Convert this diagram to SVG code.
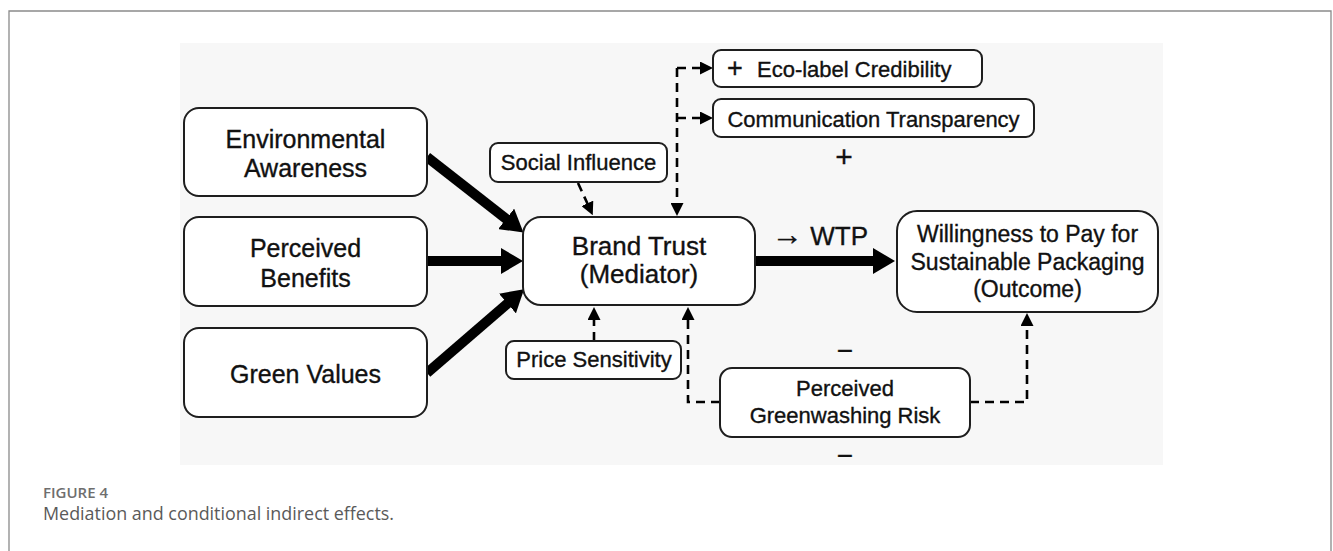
<svg xmlns="http://www.w3.org/2000/svg" width="1333" height="551" viewBox="0 0 1333 551">
  <style>
    .box { fill: #ffffff; stroke: #1e1e1e; stroke-width: 2; }
    .t { font-family: "Liberation Sans", Arial, sans-serif; fill: #111111; stroke: #111111; stroke-width: 0.35; text-anchor: middle; }
    .big { font-size: 25px; }
    .mid { font-size: 23px; }
    .sm { font-size: 22px; }
    .solid { fill: none; stroke: #000000; stroke-width: 10; }
    .dash { fill: none; stroke: #000000; stroke-width: 2.6; stroke-dasharray: 9 6; }
    .cap { font-family: "Open Sans", "Liberation Sans", sans-serif; }
  </style>
  <defs>
    <marker id="headBig" markerUnits="userSpaceOnUse" markerWidth="22" markerHeight="26" refX="10" refY="13" orient="auto">
      <path d="M0,0 L22,13 L0,26 Z" fill="#000000"/>
    </marker>
    <marker id="headSmall" markerUnits="userSpaceOnUse" markerWidth="13" markerHeight="13" refX="4" refY="6.5" orient="auto">
      <path d="M0,0 L13,6.5 L0,13 Z" fill="#000000"/>
    </marker>
  </defs>

  <!-- page frame -->
  <rect x="0" y="0" width="1333" height="551" fill="#ffffff"/>
  <path d="M9,551 V11 H1331 V551" fill="none" stroke="#8a8a8a" stroke-width="1.3"/>

  <!-- figure panel -->
  <rect x="180" y="43" width="983" height="422" fill="#f7f7f7"/>

  <!-- connectors -->
  <g id="connectors">
    <line class="solid" x1="427" y1="157" x2="514" y2="225" marker-end="url(#headBig)"/>
    <line class="solid" x1="427" y1="261" x2="511" y2="261" marker-end="url(#headBig)"/>
    <line class="solid" x1="427" y1="373" x2="515" y2="297" marker-end="url(#headBig)"/>
    <line class="solid" x1="755" y1="261" x2="883" y2="261" marker-end="url(#headBig)"/>

    <line class="dash" x1="578" y1="183" x2="589" y2="207" marker-end="url(#headSmall)"/>
    <path class="dash" d="M677,68 V207" marker-end="url(#headSmall)"/>
    <path class="dash" d="M677,68 H704" marker-end="url(#headSmall)"/>
    <path class="dash" d="M677,118 H704" marker-end="url(#headSmall)"/>
    <path class="dash" d="M594,341 V316" marker-end="url(#headSmall)"/>
    <path class="dash" d="M720,402 H688 V316" marker-end="url(#headSmall)"/>
    <path class="dash" d="M970,402 H1027 V322" marker-end="url(#headSmall)"/>
  </g>

  <g id="environmental-awareness">
    <rect class="box" x="184" y="108" width="243" height="88" rx="15"/>
    <text class="t big" x="305.5" y="148">Environmental</text>
    <text class="t big" x="305.5" y="177">Awareness</text>
  </g>

  <g id="perceived-benefits">
    <rect class="box" x="184" y="217" width="243" height="89" rx="15"/>
    <text class="t big" x="305.5" y="257">Perceived</text>
    <text class="t big" x="305.5" y="287">Benefits</text>
  </g>

  <g id="green-values">
    <rect class="box" x="184" y="328" width="243" height="89" rx="15"/>
    <text class="t big" x="305.5" y="383">Green Values</text>
  </g>

  <g id="social-influence">
    <rect class="box" x="490" y="143" width="177" height="39" rx="8"/>
    <text class="t sm" x="578.5" y="170">Social Influence</text>
  </g>

  <g id="brand-trust">
    <rect class="box" x="523" y="217" width="232" height="88" rx="18"/>
    <text class="t" font-size="26" x="639" y="255">Brand Trust</text>
    <text class="t" font-size="26" x="639" y="283">(Mediator)</text>
  </g>

  <g id="eco-label-credibility">
    <rect class="box" x="713" y="50" width="269" height="37" rx="8"/>
    <text class="t sm" y="77" style="text-anchor:start"><tspan x="727" font-size="27">+</tspan><tspan x="757">Eco-label Credibility</tspan></text>
  </g>

  <g id="communication-transparency">
    <rect class="box" x="713" y="99" width="321" height="38" rx="8"/>
    <text class="t sm" x="873.5" y="127">Communication Transparency</text>
  </g>

  <g id="sign-plus">
    <text class="t" font-size="30" x="844" y="167">+</text>
  </g>

  <g id="wtp-label">
    <text class="t" font-size="26" x="772" y="245" style="text-anchor:start"><tspan font-size="31">→</tspan> WTP</text>
  </g>

  <g id="willingness-to-pay">
    <rect class="box" x="897" y="211" width="261" height="101" rx="20"/>
    <text class="t mid" x="1027.5" y="242">Willingness to Pay for</text>
    <text class="t mid" x="1027.5" y="270">Sustainable Packaging</text>
    <text class="t mid" x="1027.5" y="297">(Outcome)</text>
  </g>

  <g id="price-sensitivity">
    <rect class="box" x="506" y="341" width="175" height="38" rx="8"/>
    <text class="t sm" x="594" y="367">Price Sensitivity</text>
  </g>

  <g id="perceived-greenwashing-risk">
    <rect class="box" x="720" y="368" width="250" height="69" rx="12"/>
    <text class="t sm" x="845" y="396">Perceived</text>
    <text class="t sm" x="845" y="423">Greenwashing Risk</text>
  </g>

  <g id="sign-minus">
    <text class="t" font-size="28" x="845" y="360">−</text>
    <text class="t" font-size="28" x="845" y="465">−</text>
  </g>

  <!-- caption -->
  <text class="cap" x="43" y="498" font-size="15" font-weight="600" fill="#6e6e6e">FIGURE 4</text>
  <text class="cap" x="43" y="520" font-size="17.9" fill="#5a5a5a">Mediation and conditional indirect effects.</text>
</svg>
